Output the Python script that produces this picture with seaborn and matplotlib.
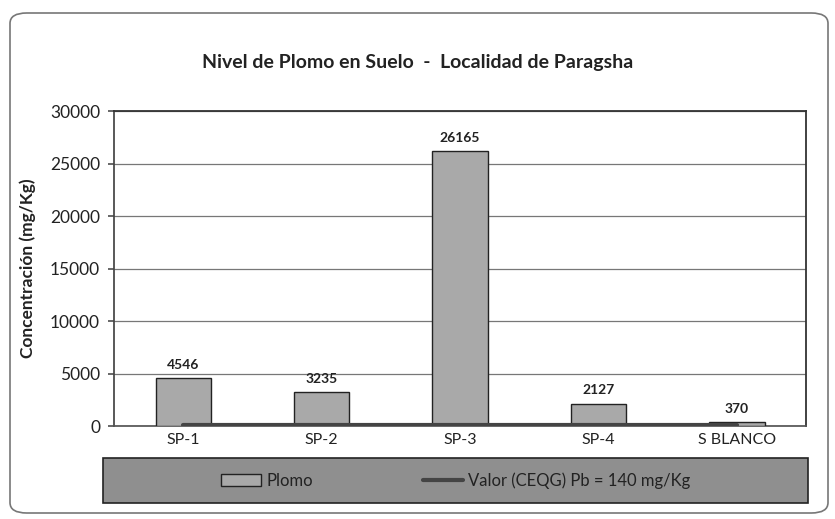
import matplotlib
matplotlib.use('Agg')
import matplotlib.pyplot as plt
import seaborn as sns
import pandas as pd
from matplotlib.patches import FancyBboxPatch, Patch
from matplotlib.lines import Line2D

# Data
sitios = ['SP-1', 'SP-2', 'SP-3', 'SP-4', 'S BLANCO']
plomo = [4546, 3235, 26165, 2127, 370]
limite_ceqg = [140, 140, 140, 140, 140]
y_ticks = [0, 5000, 10000, 15000, 20000, 25000, 30000]

sns.set_theme(style='white')
plt.rcParams['font.family'] = ['Lato', 'DejaVu Sans']

df = pd.DataFrame({'sitio': sitios, 'plomo': plomo})

fig = plt.figure(figsize=(8.35, 5.19), dpi=100)
ax = fig.add_axes([0.1365, 0.179, 0.829, 0.607])

sns.barplot(data=df, x='sitio', y='plomo', color='#a9a9a9', width=0.4,
            edgecolor='#222222', linewidth=1.0, saturation=1, ax=ax, zorder=3)
ax.plot(range(len(sitios)), limite_ceqg, color='#444444', lw=3, zorder=4)

# value labels
for i, v in enumerate(plomo):
    ax.text(i, v + 700, str(v), ha='center', va='bottom', fontsize=10,
            fontweight='bold', color='#222222')

ax.set_ylim(0, 30000)
ax.set_xlim(-0.5, len(sitios) - 0.5)
ax.set_yticks(y_ticks)
ax.set_yticklabels([str(t) for t in y_ticks], fontsize=12.5, color='#222222')
ax.set_xticks(range(len(sitios)))
ax.set_xticklabels(sitios)
ax.tick_params(axis='x', labelsize=11.5, colors='#222222', length=0, pad=5)
ax.set_xticks([i + 0.5 for i in range(len(sitios) - 1)], minor=True)
ax.tick_params(axis='x', which='minor', length=4, color='#555555', direction='out')
ax.tick_params(axis='y', length=4, color='#555555', direction='out', left=True, pad=6)
ax.grid(axis='y', color='#777777', lw=0.9, zorder=0)
ax.set_xlabel('')
ax.set_ylabel('Concentración (mg/Kg)', fontsize=12.5, fontweight='bold',
              color='#222222', labelpad=10)

for s in ['top', 'right']:
    ax.spines[s].set_color('#333333')
    ax.spines[s].set_linewidth(1.3)
ax.spines['left'].set_color('#444444')
ax.spines['bottom'].set_color('#555555')

fig.text(0.5, 0.879, 'Nivel de Plomo en Suelo  -  Localidad de Paragsha',
         ha='center', va='center', fontsize=14, fontweight='bold', color='#222222')

handles = [Patch(facecolor='#a9a9a9', edgecolor='#222222', label='Plomo'),
           Line2D([0], [0], color='#444444', lw=3, label='Valor (CEQG) Pb = 140 mg/Kg')]
leg = fig.legend(handles=handles, loc='center', ncol=2, frameon=False,
                 bbox_to_anchor=(0.546, 0.074), fontsize=12, columnspacing=6.6,
                 handlelength=2.4, handletextpad=0.3)
for t in leg.get_texts():
    t.set_color('#222222')

# grey legend box spanning the plot width
fig.patches.append(FancyBboxPatch((103 / 835, 16 / 519), 705 / 835, 45 / 519,
                                  boxstyle='square,pad=0', transform=fig.transFigure,
                                  facecolor='#8f8f8f', edgecolor='#222222', lw=1.2, zorder=0))

fig.patches.append(FancyBboxPatch((10 / 835, 6 / 519), 818 / 835, 500 / 519,
                                  boxstyle='round,pad=0,rounding_size=0.02',
                                  transform=fig.transFigure, facecolor='none',
                                  edgecolor='#777777', lw=1.2, zorder=-1))

fig.savefig('out.png', dpi=100)
